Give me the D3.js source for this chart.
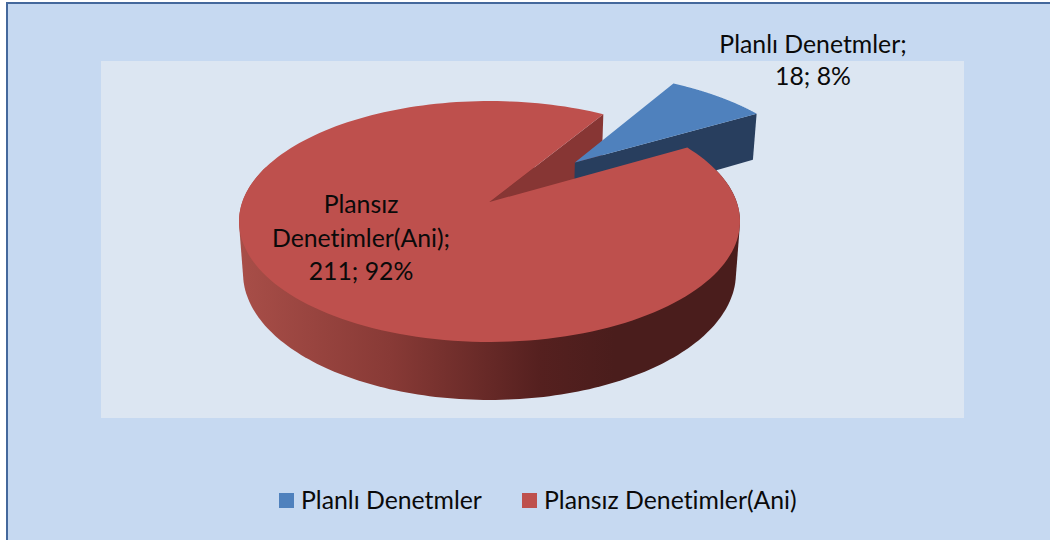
<!DOCTYPE html>
<html>
<head>
<meta charset="utf-8">
<script src="https://cdn.jsdelivr.net/npm/d3@7"></script>
<style>
  html, body { margin: 0; padding: 0; background: #fff; }
  svg { display: block; }
  text { font-family: Lato, "Open Sans", sans-serif; fill: #0a0a0a; font-variant-ligatures: none; }
</style>
</head>
<body>
<div id="chart"></div>
<script>
// chart data
var categories = ["Planlı Denetmler", "Plansız Denetimler(Ani)"];
var counts = [18, 211];
var percents = ["8%", "92%"];
var sliceColors = ["#4f81bd", "#be504d"];

var svgWidth = 1051;
var svgHeight = 540;

var svg = d3.select("#chart")
  .append("svg")
  .attr("width", svgWidth)
  .attr("height", svgHeight);

var defs = svg.append("defs");

// background and plot area, only the left and top border are in the picture
svg.append("rect")
  .attr("x", 6).attr("y", 3)
  .attr("width", svgWidth - 7).attr("height", svgHeight - 3)
  .attr("fill", "#c6d9f1");

svg.append("path")
  .attr("d", `M7,${svgHeight}V3H${svgWidth - 1}`)
  .attr("fill", "none")
  .attr("stroke", "#44689c")
  .attr("stroke-width", 2);

svg.append("rect")
  .attr("x", 101).attr("y", 61)
  .attr("width", 863).attr("height", 357)
  .attr("fill", "#dce6f2");

var color = d3.scaleOrdinal().domain(categories).range(sliceColors);

// rotation of the first slice, clockwise from the back of the pie
var firstAngle = 31.6 * Math.PI / 180;

var pie = d3.pie()
  .sort(null)
  .value(d => d.count)
  .startAngle(firstAngle)
  .endAngle(firstAngle + 2 * Math.PI);

var slices = pie(categories.map((c, i) => ({ name: c, count: counts[i], pct: percents[i] })));

// perspective projection of the pie, u goes right, v goes to the viewer, z goes down
var proj = { x0: 489.5, y0: 202, cx: 247.2, ay: 117.3, persp: 0.1618, dz: 51.8, ez: 0.016 };

function project(u, v, z) {
  var w = 1 - proj.persp * v + proj.ez * z;
  return [proj.x0 + proj.cx * u / w, proj.y0 + (proj.ay * v + proj.dz * z) / w];
}

// point on a slice, r is 0 at the apex and 1 at the rim
function slicePoint(slice, angle, r, z) {
  var mid = (slice.startAngle + slice.endAngle) / 2;
  var off = slice.index === 0 ? 0.51 : 0;
  return project(
    off * Math.sin(mid) + r * Math.sin(angle),
    -off * Math.cos(mid) - r * Math.cos(angle),
    z
  );
}

function rim(slice, from, to, z) {
  return d3.range(0, 181).map(function(i) {
    return slicePoint(slice, from + (to - from) * i / 180, 1, z);
  });
}

var line = d3.line().curve(d3.curveLinear);
function closed(points) { return line(points) + "Z"; }

function topFace(slice) {
  return closed([slicePoint(slice, slice.startAngle, 0, 0)]
    .concat(rim(slice, slice.startAngle, slice.endAngle, 0)));
}

function radialFace(slice, angle) {
  return closed([
    slicePoint(slice, angle, 0, 0),
    slicePoint(slice, angle, 1, 0),
    slicePoint(slice, angle, 1, 1),
    slicePoint(slice, angle, 0, 1)
  ]);
}

// the wall faces the viewer, the hull gives it straight sides between the two rims
function wall(slice) {
  var from = Math.PI * 0.4;
  var to = Math.PI * 1.6;
  return closed(d3.polygonHull(rim(slice, from, to, 0).concat(rim(slice, from, to, 1))));
}

// shaded outer wall of the big slice
var wallGradient = defs.append("linearGradient")
  .attr("id", "wallShade")
  .attr("gradientUnits", "userSpaceOnUse")
  .attr("x1", 240).attr("x2", 740)
  .attr("y1", 0).attr("y2", 0);
wallGradient.append("stop").attr("offset", "0").attr("stop-color", "#a84e48");
wallGradient.append("stop").attr("offset", "0.3").attr("stop-color", "#883a36");
wallGradient.append("stop").attr("offset", "0.6").attr("stop-color", "#55201f");
wallGradient.append("stop").attr("offset", "0.75").attr("stop-color", "#4a1d1c");
wallGradient.append("stop").attr("offset", "1").attr("stop-color", "#4a1d1c");

var blue = slices[0];
var red = slices[1];
var pieGroup = svg.append("g");

// painted from back to front, the wall goes first so it stays under the cut
pieGroup.append("path")
  .attr("d", wall(red))
  .attr("fill", "url(#wallShade)");

pieGroup.append("path")
  .attr("d", radialFace(red, red.endAngle))
  .attr("fill", "#873634");

pieGroup.append("path")
  .attr("d", radialFace(blue, blue.endAngle))
  .attr("fill", "#283e5e");

pieGroup.append("path")
  .attr("d", topFace(blue))
  .attr("fill", color(blue.data.name));

pieGroup.append("path")
  .attr("d", topFace(red))
  .attr("fill", color(red.data.name));

// data labels
var labelGroup = svg.append("g")
  .attr("font-size", 24.8)
  .attr("text-anchor", "middle");

var blueLabel = labelGroup.append("text");
blueLabel.append("tspan").attr("x", 813).attr("y", 53).text(blue.data.name + ";");
blueLabel.append("tspan").attr("x", 813).attr("y", 85).text(blue.data.count + "; " + blue.data.pct);

var redWords = red.data.name.split(" ");
var redLabel = labelGroup.append("text");
redLabel.append("tspan").attr("x", 361).attr("y", 213).text(redWords[0]);
redLabel.append("tspan").attr("x", 361).attr("y", 247).text(redWords[1] + ";");
redLabel.append("tspan").attr("x", 361).attr("y", 280).text(red.data.count + "; " + red.data.pct);

// legend
var legendX = [279, 522];
var legend = svg.append("g")
  .selectAll("g")
  .data(categories)
  .enter()
  .append("g")
  .attr("transform", (d, i) => `translate(${legendX[i]}, 493)`);

legend.append("rect")
  .attr("width", 15)
  .attr("height", 15)
  .attr("fill", d => color(d));

legend.append("text")
  .attr("x", 22)
  .attr("y", 16)
  .attr("font-size", 24.8)
  .text(d => d);
</script>
</body>
</html>
